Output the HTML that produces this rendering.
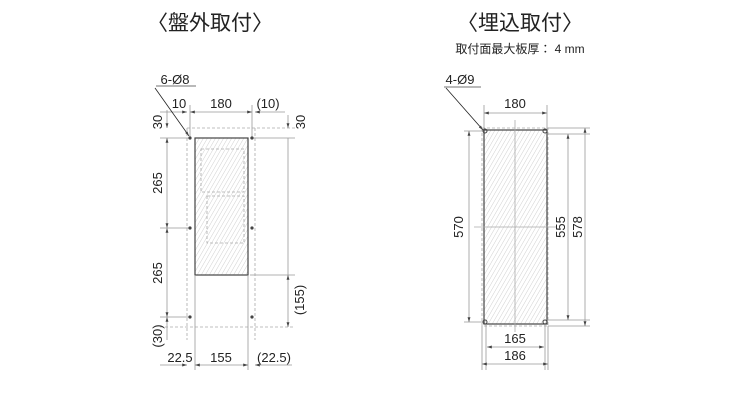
<!DOCTYPE html>
<html><head><meta charset="utf-8"><style>
html,body{margin:0;padding:0;background:#fff;width:740px;height:400px;overflow:hidden}
svg{display:block}
text{font-family:"Liberation Sans","Noto Sans CJK JP",sans-serif;fill:#222}
</style></head><body>
<svg width="740" height="400" viewBox="0 0 740 400" xmlns="http://www.w3.org/2000/svg">
<defs>
<pattern id="h" width="3.5" height="3.5" patternUnits="userSpaceOnUse" patternTransform="rotate(30)">
<line x1="0" y1="0" x2="0" y2="3.5" stroke="#bbb" stroke-width="0.7"/></pattern>
<marker id="a" viewBox="0 0 10 10" refX="10" refY="5" markerWidth="6" markerHeight="6" orient="auto-start-reverse"><path d="M0,2 L10,5 L0,8z" fill="#444"/></marker>
</defs>
<text x="210" y="30" font-size="21" text-anchor="middle">〈盤外取付〉</text>
<text x="520" y="30" font-size="21" text-anchor="middle">〈埋込取付〉</text>
<text x="520" y="53" font-size="12" text-anchor="middle">取付面最大板厚： 4 mm</text>

<g stroke="#999" stroke-width="0.8" fill="none">
<rect x="195" y="138" width="53" height="137" fill="url(#h)" stroke="#444" stroke-width="1.2"/>
<g stroke-dasharray="3,2" stroke="#aaa">
<rect x="201" y="149" width="43" height="43"/>
<rect x="207" y="196" width="37" height="47"/>
<line x1="187" y1="128" x2="187" y2="340"/><line x1="255" y1="128" x2="255" y2="340"/>
<line x1="187" y1="128" x2="295" y2="128"/><line x1="160" y1="327" x2="295" y2="327"/>
</g>
<line x1="160" y1="138" x2="190" y2="138"/><line x1="160" y1="228" x2="190" y2="228"/><line x1="160" y1="317" x2="190" y2="317"/>
<line x1="250" y1="138" x2="295" y2="138"/><line x1="250" y1="275" x2="295" y2="275"/>
<line x1="195" y1="275" x2="195" y2="370"/><line x1="248" y1="275" x2="248" y2="370"/>
<line x1="190" y1="105" x2="190" y2="138"/><line x1="252" y1="105" x2="252" y2="138"/>
<line x1="167" y1="138" x2="167" y2="228" marker-start="url(#a)" marker-end="url(#a)"/>
<line x1="167" y1="228" x2="167" y2="317" marker-start="url(#a)" marker-end="url(#a)"/>
<line x1="167" y1="317" x2="167" y2="340" marker-start="url(#a)"/>
<line x1="167" y1="110" x2="167" y2="128" marker-end="url(#a)"/>
<line x1="288" y1="138" x2="288" y2="275" /><line x1="288" y1="275" x2="288" y2="327" marker-start="url(#a)" marker-end="url(#a)"/>
<line x1="288" y1="115" x2="288" y2="128" marker-end="url(#a)"/>
<line x1="160" y1="112" x2="187" y2="112" marker-end="url(#a)"/>
<line x1="190" y1="112" x2="252" y2="112" marker-start="url(#a)" marker-end="url(#a)"/>
<line x1="255" y1="112" x2="285" y2="112" marker-start="url(#a)"/>
<line x1="160" y1="365" x2="187" y2="365" marker-end="url(#a)"/>
<line x1="195" y1="365" x2="248" y2="365" marker-start="url(#a)" marker-end="url(#a)"/>
<line x1="255" y1="365" x2="292" y2="365" marker-start="url(#a)"/>
<line x1="156" y1="86" x2="196" y2="86" stroke="#444"/>
<line x1="155" y1="88" x2="189" y2="136" stroke="#222" marker-end="url(#a)"/>
</g>
<g fill="#444">
<circle cx="190" cy="138" r="1.6"/><circle cx="252" cy="138" r="1.6"/>
<circle cx="190" cy="228" r="1.6"/><circle cx="252" cy="228" r="1.6"/>
<circle cx="190" cy="317" r="1.6"/><circle cx="252" cy="317" r="1.6"/>
</g>
<g font-size="13">
<text x="175" y="84" text-anchor="middle">6-Ø8</text>
<text x="179" y="108" text-anchor="middle">10</text>
<text x="221" y="108" text-anchor="middle">180</text>
<text x="268" y="108" text-anchor="middle">(10)</text>
<text x="180" y="362" text-anchor="middle">22.5</text>
<text x="221" y="362" text-anchor="middle">155</text>
<text x="274" y="362" text-anchor="middle">(22.5)</text>
<text transform="translate(162,122) rotate(-90)" text-anchor="middle">30</text>
<text transform="translate(305,122) rotate(-90)" text-anchor="middle">30</text>
<text transform="translate(162,183) rotate(-90)" text-anchor="middle">265</text>
<text transform="translate(162,273) rotate(-90)" text-anchor="middle">265</text>
<text transform="translate(162,336) rotate(-90)" text-anchor="middle">(30)</text>
<text transform="translate(304,300) rotate(-90)" text-anchor="middle">(155)</text>
</g>

<g stroke="#999" stroke-width="0.8" fill="none">
<rect x="484" y="130" width="63" height="194" fill="url(#h)" stroke="#444" stroke-width="1.2"/>
<rect x="482" y="128" width="66" height="198" stroke="#aaa" stroke-dasharray="3,2"/>
<line x1="515" y1="120" x2="515" y2="332" stroke="#aaa"/>
<line x1="474" y1="227" x2="556" y2="227" stroke="#aaa"/>
<line x1="484" y1="105" x2="484" y2="130"/><line x1="547" y1="105" x2="547" y2="130"/>
<line x1="484" y1="113" x2="547" y2="113" marker-start="url(#a)" marker-end="url(#a)"/>
<line x1="464" y1="131" x2="484" y2="131"/><line x1="464" y1="322" x2="484" y2="322"/>
<line x1="469" y1="131" x2="469" y2="322" marker-start="url(#a)" marker-end="url(#a)"/>
<line x1="547" y1="134" x2="590" y2="134"/><line x1="547" y1="320" x2="590" y2="320"/>
<line x1="548" y1="128" x2="590" y2="128"/><line x1="548" y1="326" x2="590" y2="326"/>
<line x1="568" y1="134" x2="568" y2="320" marker-start="url(#a)" marker-end="url(#a)"/>
<line x1="585" y1="128" x2="585" y2="326" marker-start="url(#a)" marker-end="url(#a)"/>
<line x1="486" y1="324" x2="486" y2="370"/><line x1="545" y1="324" x2="545" y2="370"/>
<line x1="482" y1="326" x2="482" y2="370"/><line x1="548" y1="326" x2="548" y2="370"/>
<line x1="487" y1="347" x2="544" y2="347" marker-start="url(#a)" marker-end="url(#a)"/>
<line x1="482" y1="364" x2="548" y2="364" marker-start="url(#a)" marker-end="url(#a)"/>
<line x1="444" y1="87" x2="481" y2="87" stroke="#444"/>
<line x1="446" y1="88" x2="483" y2="130" stroke="#222" marker-end="url(#a)"/>
</g>
<g fill="none" stroke="#444" stroke-width="1">
<circle cx="485" cy="131" r="2"/><circle cx="545" cy="131" r="2"/>
<circle cx="485" cy="322" r="2"/><circle cx="545" cy="322" r="2"/>
</g>
<g font-size="13">
<text x="460" y="84" text-anchor="middle">4-Ø9</text>
<text x="515" y="108" text-anchor="middle">180</text>
<text x="515" y="343" text-anchor="middle">165</text>
<text x="515" y="360" text-anchor="middle">186</text>
<text transform="translate(463,227) rotate(-90)" text-anchor="middle">570</text>
<text transform="translate(565,227) rotate(-90)" text-anchor="middle">555</text>
<text transform="translate(582,227) rotate(-90)" text-anchor="middle">578</text>
</g>
</svg>
</body></html>
